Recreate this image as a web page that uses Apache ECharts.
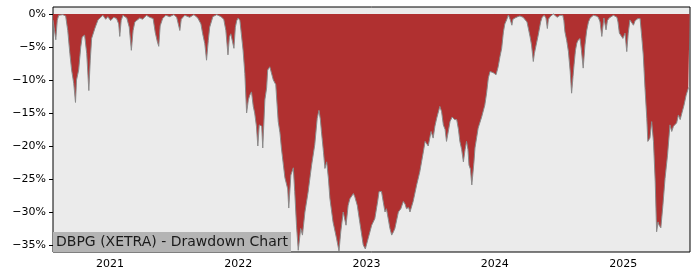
<!DOCTYPE html>
<html>
<head>
<meta charset="utf-8">
<script src="https://cdn.jsdelivr.net/npm/echarts@6/dist/echarts.min.js"></script>
<style>html,body{margin:0;padding:0;background:#fff}#c{width:700px;height:280px}</style>
</head>
<body>
<div id="c"></div>
<script>
// Dates are given as day numbers counted from startDate
const startDate = '2020-07-23';
const endDayNumber = 1813;
const dayNumbers = [
  0,3,8,12,16,28,36,42,48,53,
  59,64,67,73,79,83,90,96,102,106,
  110,119,128,136,142,150,156,164,173,181,
  187,190,194,199,210,217,223,228,233,247,
  255,266,275,285,291,297,301,305,312,321,
  332,344,352,361,365,375,389,401,412,421,
  426,432,437,442,446,455,466,478,486,492,
  498,502,506,510,515,519,523,527,532,536,
  541,546,551,556,560,565,570,574,579,583,
  587,594,597,603,608,611,617,621,627,634,
  641,646,650,656,660,665,668,671,677,684,
  688,693,698,705,710,717,726,736,745,752,
  757,761,764,770,774,779,784,788,797,807,
  814,819,826,834,840,845,850,855,859,866,
  873,883,889,897,907,916,924,928,932,935,
  940,945,949,954,959,964,969,973,983,990,
  997,1002,1006,1012,1016,1025,1035,1044,1054,1059,
  1063,1068,1076,1082,1087,1092,1101,1106,1111,1116,
  1120,1126,1130,1136,1143,1149,1154,1158,1163,1168,
  1173,1177,1181,1184,1188,1192,1194,1198,1201,1210,
  1220,1229,1234,1239,1244,1249,1253,1261,1267,1272,
  1277,1282,1286,1291,1296,1301,1306,1309,1315,1323,
  1329,1338,1343,1349,1353,1358,1362,1367,1370,1375,
  1381,1388,1392,1398,1403,1407,1410,1415,1424,1429,
  1435,1443,1451,1454,1457,1462,1467,1472,1476,1480,
  1483,1487,1491,1494,1500,1504,1509,1514,1519,1524,
  1529,1538,1546,1552,1557,1562,1566,1568,1574,1578,
  1583,1588,1595,1605,1608,1612,1617,1622,1628,1633,
  1637,1642,1647,1652,1657,1662,1665,1671,1676,1680,
  1685,1690,1693,1697,1699,1704,1709,1714,1718,1722,
  1725,1730,1736,1742,1749,1756,1761,1766,1771,1775,
  1780,1785,1790,1796,1802,1808,1812
];
const drawdownPct = [
  -0.9,-2.0,-3.9,-1.0,-0.2,-0.1,-0.3,-2.5,-6.0,-8.5,
  -10.5,-13.4,-10.0,-8.5,-5.0,-3.5,-3.2,-6.0,-11.6,-7.0,
  -3.7,-2.2,-0.9,-0.5,-0.2,-0.8,-0.4,-1.0,-0.5,-0.7,
  -1.5,-3.4,-1.0,-0.2,-0.6,-2.0,-5.5,-2.5,-1.2,-0.6,
  -0.8,-0.2,-0.5,-0.7,-2.8,-4.2,-4.9,-1.8,-0.7,-0.2,
  -0.4,-0.1,-0.5,-2.5,-0.8,-0.2,-0.5,-0.1,-0.6,-1.5,
  -3.0,-4.5,-7.0,-4.0,-2.0,-0.4,-0.1,-0.4,-0.8,-2.5,
  -6.2,-3.5,-3.0,-2.9,-5.2,-2.0,-1.0,-0.6,-1.0,-3.0,
  -5.5,-9.0,-15.0,-13.0,-12.3,-11.8,-14.0,-15.0,-17.0,-20.0,
  -16.8,-17.0,-20.3,-13.0,-11.2,-8.5,-8.0,-8.8,-10.0,-10.7,
  -16.3,-18.0,-20.3,-23.0,-24.8,-24.5,-26.5,-29.4,-24.4,-23.3,
  -26.9,-32.0,-35.8,-32.5,-33.5,-30.0,-27.0,-22.9,-19.8,-15.8,
  -14.6,-16.0,-17.8,-21.0,-23.4,-22.4,-25.0,-27.9,-31.5,-34.0,
  -35.9,-33.0,-30.0,-32.0,-29.0,-28.0,-27.9,-27.2,-27.7,-29.0,
  -31.5,-35.0,-35.6,-34.0,-32.0,-31.0,-28.4,-26.9,-26.7,-26.9,
  -28.5,-30.0,-29.5,-31.0,-32.5,-33.5,-33.0,-32.5,-30.0,-29.5,
  -28.4,-28.8,-29.5,-29.3,-30.0,-28.4,-25.9,-23.9,-20.9,-19.3,
  -19.5,-20.0,-17.8,-18.8,-17.0,-15.8,-14.0,-14.8,-16.8,-17.5,
  -19.3,-17.5,-16.3,-15.6,-16.0,-16.0,-17.5,-19.3,-20.5,-22.4,
  -20.5,-19.3,-20.5,-22.9,-23.5,-25.9,-26.2,-22.5,-20.3,-17.3,
  -15.6,-13.8,-12.0,-9.7,-8.7,-8.6,-8.9,-9.2,-8.0,-6.5,
  -5.2,-2.7,-1.5,-0.9,-0.15,-0.8,-1.7,-0.8,-0.6,-0.4,
  -0.3,-0.5,-0.5,-1.2,-2.2,-3.5,-4.7,-7.2,-6.0,-5.7,
  -3.2,-1.2,-0.5,-0.2,-0.6,-2.2,-0.8,-0.4,0.0,-0.3,
  -0.5,-0.2,-0.2,-1.0,-2.7,-4.0,-5.7,-8.7,-12.0,-9.5,
  -7.7,-5.5,-4.4,-4.0,-3.7,-5.5,-8.2,-4.7,-2.5,-1.2,
  -0.6,-0.2,-0.3,-0.5,-1.2,-3.4,-1.5,-0.6,-2.4,-1.0,
  -0.6,-0.3,-0.2,-0.5,-1.2,-2.9,-3.2,-3.7,-2.9,-5.7,
  -3.0,-0.9,-1.0,-1.7,-1.0,-1.2,-0.7,-0.7,-3.7,-6.2,
  -11.3,-15.8,-19.3,-19.5,-18.8,-16.3,-19.3,-25.4,-33.0,-31.5,
  -32.0,-32.4,-28.9,-24.9,-21.4,-16.8,-17.8,-17.0,-16.8,-16.5,
  -15.3,-16.0,-16.3,-13.8,-12.3,-11.3,-11.0
];
const yearTicks = ['2021-01-01','2022-01-01','2023-01-01','2024-01-01','2025-01-01'];
const pctTicks = [0,-5,-10,-15,-20,-25,-30,-35];
const titleText = 'DBPG (XETRA) - Drawdown Chart';

const DAY = 86400000;
const t0 = Date.parse(startDate + 'T00:00:00Z');
const seriesData = dayNumbers.map((d, i) => [t0 + d * DAY, drawdownPct[i]]);
const yearTickValues = yearTicks.map(s => Date.parse(s + 'T00:00:00Z'));

const chart = echarts.init(document.getElementById('c'), null, {renderer: 'canvas'});
const font = 'DejaVu Sans';
chart.setOption({
  animation: false,
  backgroundColor: '#ffffff',
  title: {
    text: titleText,
    left: 53, bottom: 28,
    padding: [2, 3, 2, 3],
    backgroundColor: '#b4b4b4',
    textStyle: {fontFamily: font, fontSize: 14, fontWeight: 'normal', color: '#1a1a1a', lineHeight: 16}
  },
  grid: {
    left: 53, right: 10, top: 7, bottom: 28,
    show: true, backgroundColor: '#ebebeb', borderColor: '#000', borderWidth: 1
  },
  xAxis: {
    type: 'value',
    min: t0, max: t0 + endDayNumber * DAY,
    axisLine: {show: false},
    splitLine: {show: false},
    axisTick: {show: true, length: 4, lineStyle: {color: '#000'}, customValues: yearTickValues},
    axisLabel: {
      customValues: yearTickValues, margin: 7,
      fontFamily: font, fontSize: 11, color: '#000',
      formatter: v => String(new Date(v).getUTCFullYear())
    }
  },
  yAxis: {
    type: 'value',
    min: -36.06, max: 1.06,
    axisLine: {show: false},
    splitLine: {show: false},
    axisTick: {show: true, length: 4, lineStyle: {color: '#000'}, customValues: pctTicks},
    axisLabel: {
      customValues: pctTicks, margin: 7,
      fontFamily: font, fontSize: 11, color: '#000',
      formatter: v => (v < 0 ? '\u2212' : '') + Math.abs(v) + '%'
    }
  },
  series: [{
    type: 'line',
    data: seriesData,
    showSymbol: false,
    smooth: false,
    lineStyle: {color: '#8a8a8a', width: 1},
    areaStyle: {color: '#b03030', opacity: 1, origin: 0},
    z: 2
  }]
});
</script>
</body>
</html>
